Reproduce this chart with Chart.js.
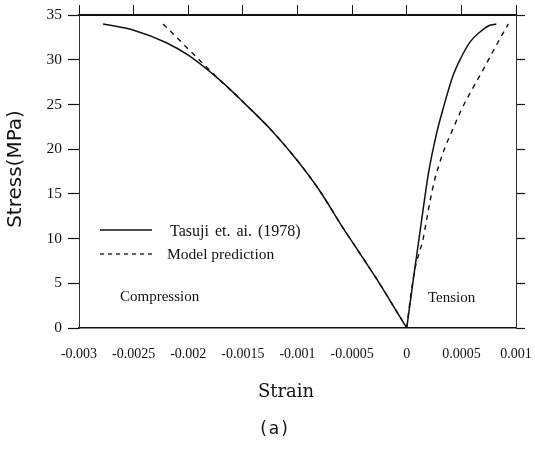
<!DOCTYPE html>
<html>
<head>
<meta charset="utf-8">
<script src="https://cdn.jsdelivr.net/npm/chart.js@4"></script>
<style>
html, body { margin: 0; padding: 0; background: #fff; }
</style>
</head>
<body>
<canvas id="grafica" width="535" height="451"></canvas>
<script>
'use strict';

// Ejes
const xTicks = [-0.003, -0.0025, -0.002, -0.0015, -0.001, -0.0005, 0, 0.0005, 0.001];
const xTickLabels = ['-0.003', '-0.0025', '-0.002', '-0.0015', '-0.001', '-0.0005', '0', '0.0005', '0.001'];
const yTicks = [0, 5, 10, 15, 20, 25, 30, 35];

// Tasuji et al. (1978) - rama de compresion y rama de traccion
const tasujiCompStrain = [-0.00278, -0.0025, -0.0022, -0.002, -0.0017, -0.0015, -0.00123, -0.001, -0.0008, -0.0006, -0.0004, -0.00025, -0.0001, 0];
const tasujiCompStress = [34.0, 33.3, 31.9, 30.5, 27.6, 25.3, 22.0, 18.7, 15.4, 11.5, 7.8, 5.0, 2.0, 0];
const tasujiTensStrain = [0, 0.00007, 0.00014, 0.0002, 0.00027, 0.00033, 0.00042, 0.0005, 0.00058, 0.00067, 0.00075, 0.00082];
const tasujiTensStress = [0, 6.3, 12.4, 17.4, 21.6, 24.4, 28.1, 30.3, 32.0, 33.1, 33.8, 34.0];

// Prediccion del modelo
const modelCompStrain = [-0.00223, -0.002, -0.0017, -0.0015, -0.00123, -0.001, -0.0008, -0.0006, -0.0004, -0.00025, -0.0001, 0];
const modelCompStress = [34.0, 31.2, 27.6, 25.3, 22.0, 18.7, 15.4, 11.5, 7.8, 5.0, 2.0, 0];
const modelTensStrain = [0, 0.00003, 0.00007, 0.00015, 0.00021, 0.00026, 0.0003, 0.00035, 0.00041, 0.0005, 0.00059, 0.0007, 0.00081, 0.00093];
const modelTensStress = [0, 3.0, 6.3, 10.0, 14.0, 16.8, 18.4, 20.2, 21.9, 24.4, 26.5, 28.9, 31.4, 34.0];

const serif = '"Liberation Serif", "Times New Roman", serif';
const negro = '#111';

function puntos(xs, ys) {
    return xs.map((x, i) => ({ x: x, y: ys[i] }));
}

function serie(xs, ys, discontinua) {
    return {
        data: puntos(xs, ys),
        showLine: true,
        borderColor: negro,
        borderWidth: discontinua ? 1.4 : 1.5,
        borderDash: discontinua ? [5, 5] : [],
        pointRadius: 0,
        cubicInterpolationMode: 'monotone'
    };
}

function fijarTicks(valores) {
    return (scale) => { scale.ticks = valores.map(v => ({ value: v })); };
}

// textos dentro y alrededor de la grafica
const textos = {
    id: 'textos',
    afterDraw(chart) {
        const ctx = chart.ctx;
        ctx.save();
        ctx.fillStyle = negro;
        ctx.strokeStyle = negro;

        // leyenda
        ctx.lineWidth = 1.3;
        ctx.beginPath();
        ctx.moveTo(100, 230); ctx.lineTo(152, 230);
        ctx.stroke();
        ctx.setLineDash([4, 4]);
        ctx.beginPath();
        ctx.moveTo(100, 254); ctx.lineTo(154, 254);
        ctx.stroke();
        ctx.setLineDash([]);

        ctx.textBaseline = 'middle';
        ctx.textAlign = 'left';
        ctx.font = '16px ' + serif;
        ctx.wordSpacing = '2px';
        ctx.fillText('Tasuji et. ai. (1978)', 170, 232);
        ctx.wordSpacing = '0px';
        ctx.font = '15.5px ' + serif;
        ctx.fillText('Model prediction', 167, 255);
        ctx.font = '15px ' + serif;
        ctx.fillText('Compression', 120, 297);
        ctx.fillText('Tension', 428, 298);

        // titulos de ejes
        ctx.textAlign = 'center';
        ctx.font = '18px "DejaVu Serif", serif';
        ctx.fillText('Strain', 286, 392);
        ctx.font = '17px "DejaVu Sans", sans-serif';
        ctx.letterSpacing = '2px';
        ctx.fillText('(a)', 275, 430);
        ctx.letterSpacing = '0px';

        ctx.translate(16, 169);
        ctx.rotate(-Math.PI / 2);
        ctx.font = '20px "DejaVu Sans", sans-serif';
        ctx.fillText('Stress(MPa)', 0, 0);
        ctx.restore();
    }
};

new Chart(document.getElementById('grafica').getContext('2d'), {
    type: 'scatter',
    data: {
        datasets: [
            serie(tasujiCompStrain, tasujiCompStress, false),
            serie(tasujiTensStrain, tasujiTensStress, false),
            serie(modelCompStrain, modelCompStress, true),
            serie(modelTensStrain, modelTensStress, true)
        ]
    },
    options: {
        responsive: false,
        animation: false,
        devicePixelRatio: 1,
        layout: { padding: 0 },
        plugins: { legend: { display: false }, tooltip: { enabled: false } },
        scales: {
            x: {
                type: 'linear', position: 'bottom', min: -0.003, max: 0.001,
                afterBuildTicks: fijarTicks(xTicks),
                afterFit: (s) => { s.height = 123; s.paddingLeft = 0; s.paddingRight = 0; },
                ticks: {
                    callback: (v, i) => xTickLabels[i],
                    autoSkip: false, maxRotation: 0, padding: 18,
                    color: negro, font: { family: serif, size: 14 }
                },
                grid: { drawOnChartArea: false, drawTicks: false },
                border: { color: negro, width: 1.5 }
            },
            x2: {
                type: 'linear', position: 'top', min: -0.003, max: 0.001,
                afterBuildTicks: fijarTicks(xTicks),
                afterFit: (s) => { s.height = 15; s.paddingLeft = 0; s.paddingRight = 0; },
                ticks: { display: false },
                grid: { drawOnChartArea: false, tickLength: 10, tickColor: negro, tickWidth: 1 },
                border: { color: negro, width: 2 }
            },
            y: {
                type: 'linear', position: 'left', min: 0, max: 35,
                afterBuildTicks: fijarTicks(yTicks),
                afterFit: (s) => { s.width = 79; s.paddingTop = 0; s.paddingBottom = 0; },
                ticks: { padding: 6, color: negro, font: { family: serif, size: 15.5 } },
                grid: { drawOnChartArea: false, tickLength: 11, tickColor: negro, tickWidth: 1.2 },
                border: { color: '#333', width: 1 }
            },
            y2: {
                type: 'linear', position: 'right', min: 0, max: 35,
                afterBuildTicks: fijarTicks(yTicks),
                afterFit: (s) => { s.width = 19; s.paddingTop = 0; s.paddingBottom = 0; },
                ticks: { display: false },
                grid: { drawOnChartArea: false, tickLength: 9, tickColor: negro, tickWidth: 1.2 },
                border: { color: '#333', width: 1 }
            }
        }
    },
    plugins: [textos]
});
</script>
</body>
</html>
